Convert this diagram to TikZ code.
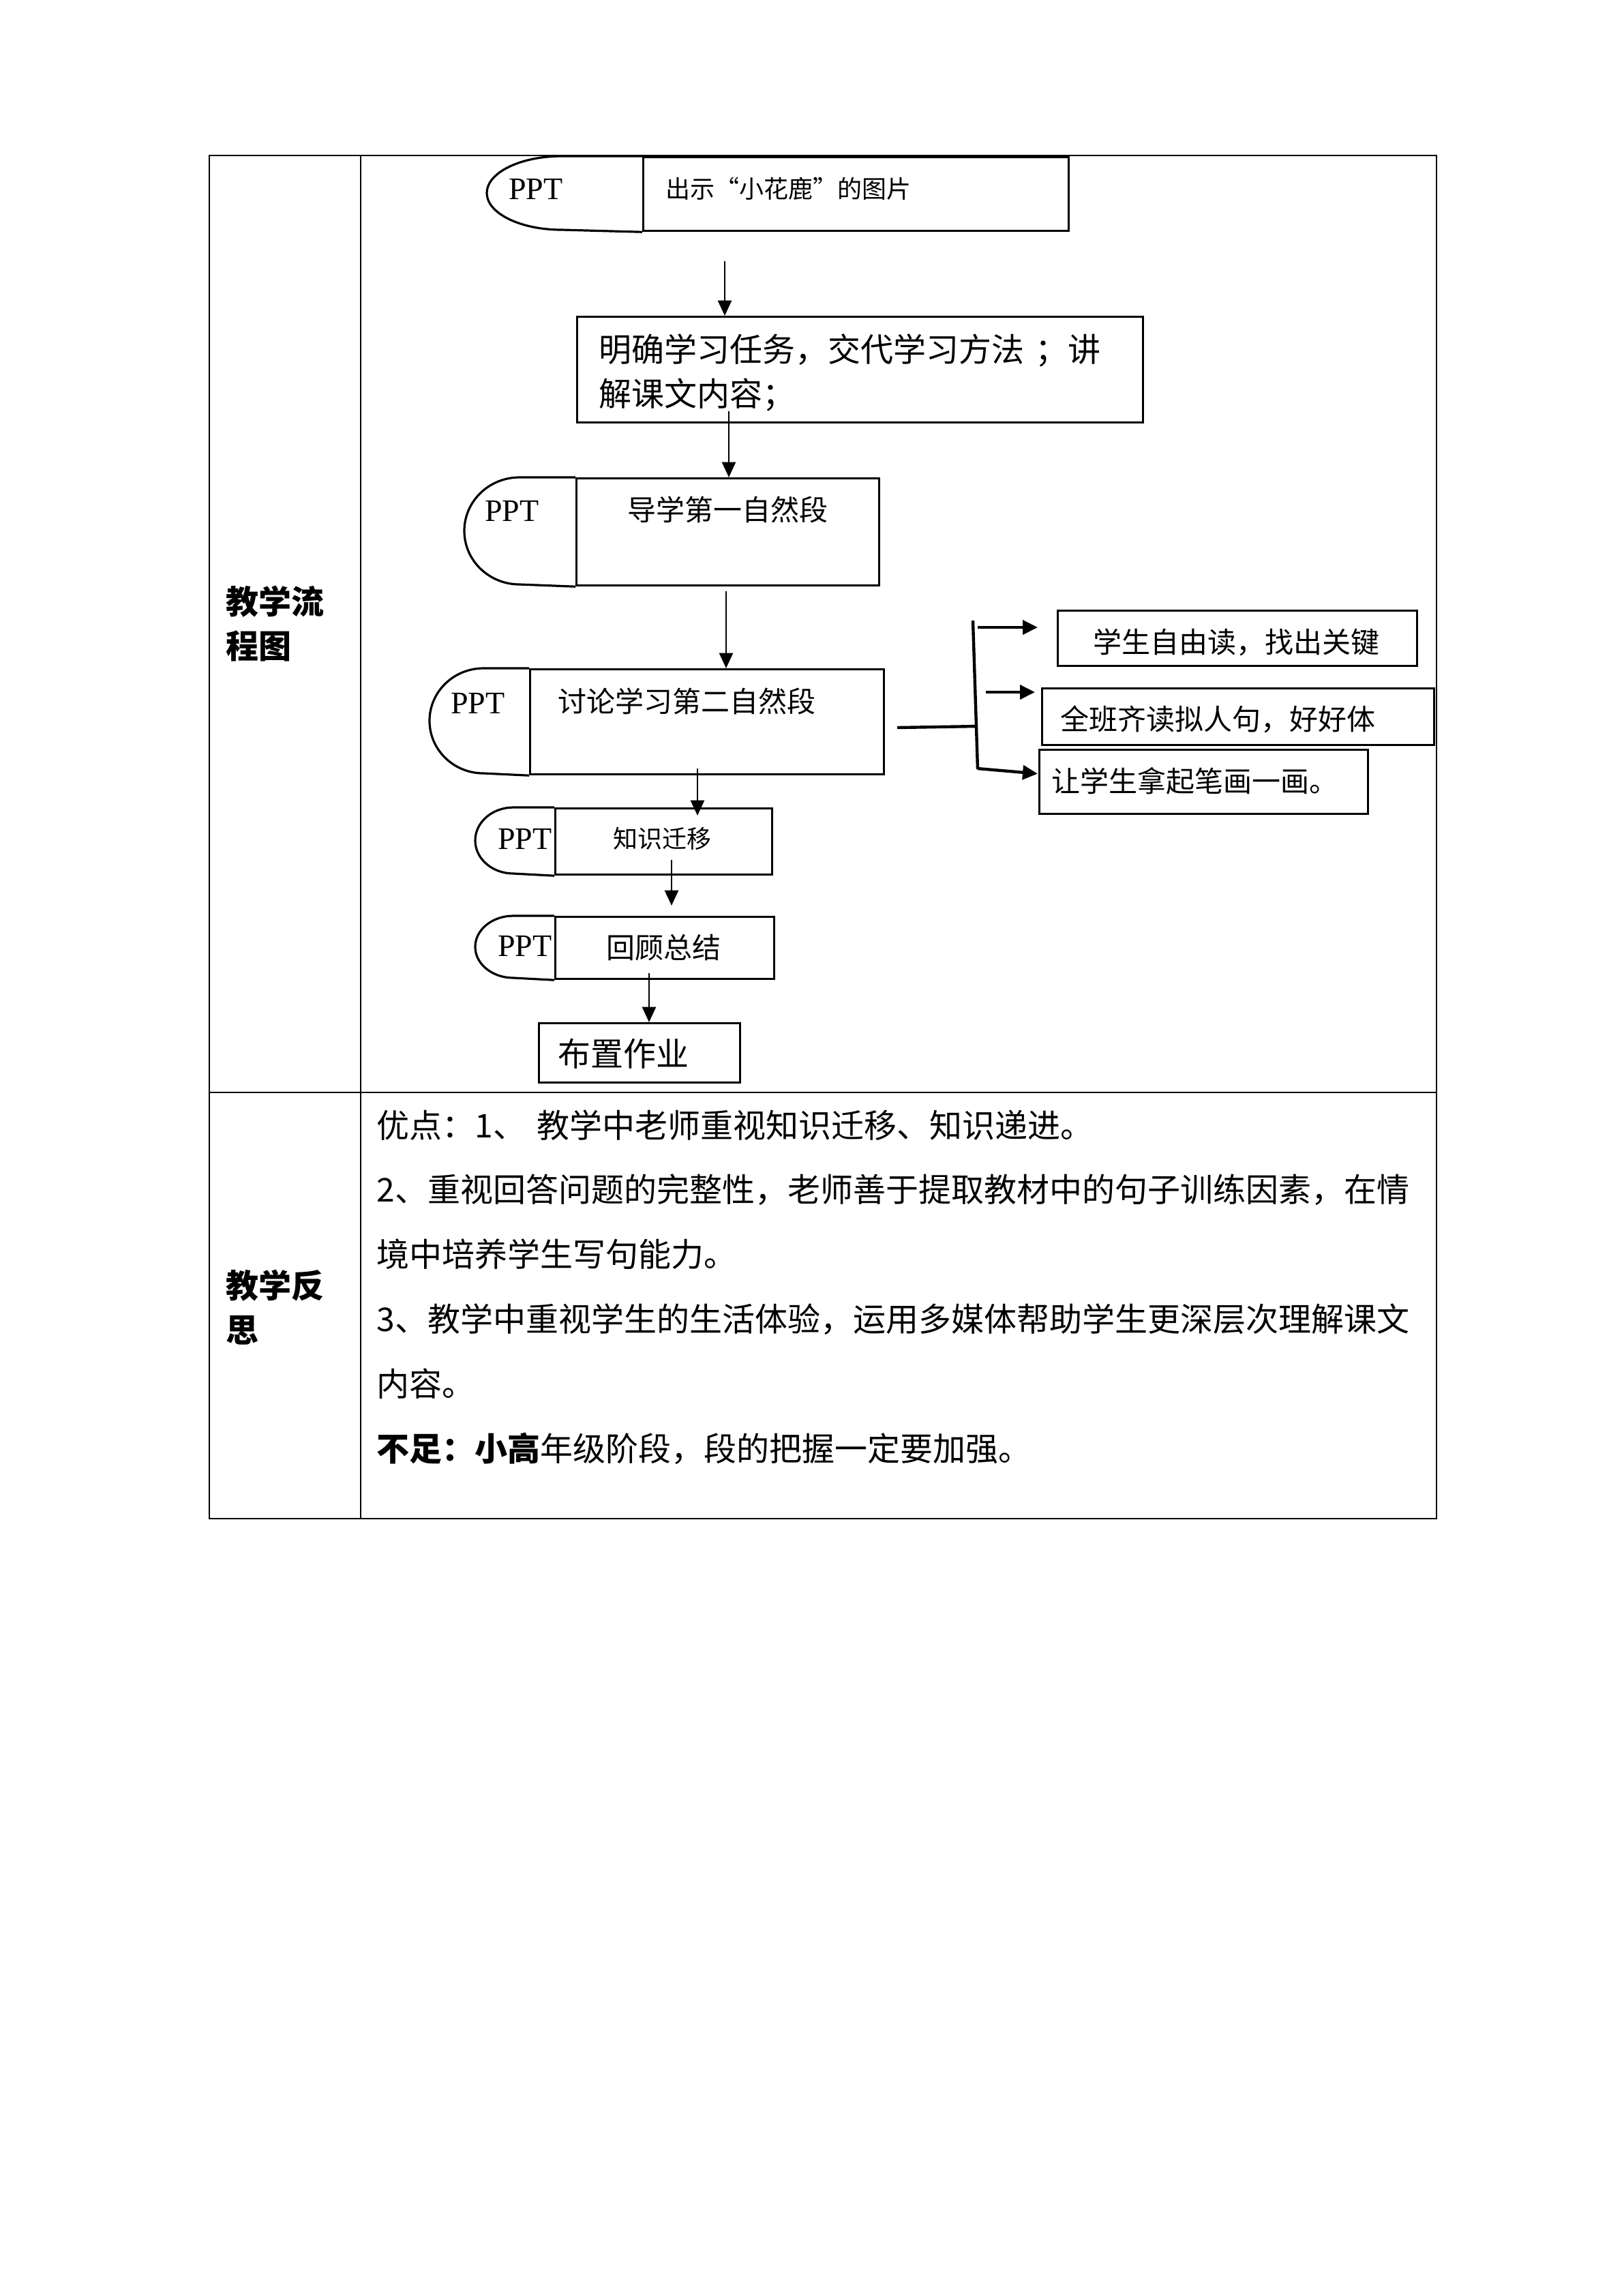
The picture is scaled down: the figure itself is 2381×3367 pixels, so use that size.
\documentclass[tikz,border=0pt]{standalone}
\usepackage{fontspec}
\setmainfont{Noto Sans CJK SC}
\newfontfamily\pptfont{Liberation Serif}
\setlength{\parindent}{0pt}
\usetikzlibrary{arrows.meta,positioning,calc}
\tikzset{
  tablerule/.style={line width=0.5pt},
  tbox/.style={draw, line width=0.8pt, anchor=north west},
  capline/.style={line width=0.8pt},
  ppttag/.style={font=\pptfont\fontsize{11.5}{13}\selectfont},
  txt/.style={font=\fontsize{10.5}{12}\selectfont},
  rowlab/.style={font=\fontsize{12}{16.25}\selectfont\bfseries, align=left, text width=60pt, anchor=base west},
  note/.style={font=\fontsize{12}{23.7}\selectfont, align=left, text width=400pt, anchor=base west},
  flow/.style={-{Triangle[length=5.6pt,width=5pt]}, line width=0.7pt},
  branch/.style={line width=1.1pt},
  brancha/.style={-{Triangle[length=5.5pt,width=5.2pt]}, line width=1.1pt},
}
\begin{document}
\begin{tikzpicture}[x=0.25pt, y=-0.25pt, every node/.style={inner sep=0pt}]
\useasboundingbox (0,0) rectangle (2381,3367);
% table
\draw[tablerule] (307,228) rectangle (2107,2227);
\draw[tablerule] (529,228) -- (529,2227);
\draw[tablerule] (307,1602) -- (2107,1602);
\node[rowlab] (flowlab) at (331,900) {教学流\\程图};
\node[rowlab] (reflab) at (331,1903) {教学反\\思};

% flow chart boxes
\node[tbox, minimum width=156pt, minimum height=27pt] (show) at (942,229) {};
\draw[capline] (show.north west) -- ++(-118,0) arc[start angle=90, end angle=270, x radius=27.5pt, y radius=13.5pt] -- (show.south west);
\node[ppttag] (showppt) at (786,277) {PPT};
\node[txt, anchor=west, font=\fontsize{9}{11}\selectfont] (showtxt) at (976,277) {出示“小花鹿”的图片};

\node[tbox, minimum width=207.5pt, minimum height=38.75pt] (task) at (845,463) {};
\node[txt, anchor=base west, font=\fontsize{12}{16.25}\selectfont, align=left, text width=200pt] (tasktxt) at (878,530) {明确学习任务，交代学习方法 ；讲\\解课文内容；};

\node[tbox, minimum width=111pt, minimum height=39.25pt] (para1) at (844,700) {};
\draw[capline] (para1.north west) -- ++(-82,0) arc[start angle=90, end angle=270, x radius=20.25pt, y radius=19.625pt] -- (para1.south west);
\node[ppttag] (para1ppt) at (751,749) {PPT};
\node[txt] (para1txt) at (1067,747) {导学第一自然段};

\node[tbox, minimum width=129.75pt, minimum height=38.5pt] (para2) at (776,980) {};
\draw[capline] (para2.north west) -- ++(-67,0) arc[start angle=90, end angle=270, x radius=19.75pt, y radius=19.25pt] -- (para2.south west);
\node[ppttag] (para2ppt) at (701,1031) {PPT};
\node[txt, anchor=west] (para2txt) at (818,1028) {讨论学习第二自然段};

\node[tbox, minimum width=79.5pt, minimum height=24.25pt] (transfer) at (813,1184) {};
\draw[capline] (transfer.north west) -- ++(-60,0) arc[start angle=90, end angle=270, x radius=14pt, y radius=12.125pt] -- (transfer.south west);
\node[ppttag] (transferppt) at (770,1230) {PPT};
\node[txt, font=\fontsize{9}{11}\selectfont] (transfertxt) at (971,1230) {知识迁移};

\node[tbox, minimum width=80.25pt, minimum height=22.75pt] (review) at (813,1343) {};
\draw[capline] (review.north west) -- ++(-60,0) arc[start angle=90, end angle=270, x radius=14pt, y radius=11.375pt] -- (review.south west);
\node[ppttag] (reviewppt) at (770,1387) {PPT};
\node[txt] (reviewtxt) at (973,1390) {回顾总结};

\node[tbox, minimum width=73.75pt, minimum height=21.75pt] (homework) at (789,1499) {};
\node[txt, font=\fontsize{12}{14}\selectfont] (homeworktxt) at (914,1545) {布置作业};

% side boxes
\node[tbox, minimum width=131.75pt, minimum height=20.25pt] (read) at (1550,894) {};
\node[txt] (readtxt) at (1813,942) {学生自由读，找出关键};
\node[tbox, minimum width=143.75pt, minimum height=20.75pt] (chorus) at (1527,1008) {};
\node[txt] (chorustxt) at (1786,1055) {全班齐读拟人句，好好体};
\node[tbox, minimum width=120.5pt, minimum height=23.5pt] (pen) at (1523,1098) {};
\node[txt] (pentxt) at (1752,1145) {让学生拿起笔画一画。};

% arrows
\coordinate (a1) at (1063,383);
\coordinate (a2) at (1069,603);
\coordinate (a3) at (1065,867);
\coordinate (a4) at (1023,1127);
\coordinate (a5) at (985,1261);
\coordinate (a6) at (952,1427);
\draw[flow] (a1) -- (a1 |- task.north);
\draw[flow] (a2) -- (a2 |- para1.north);
\draw[flow] (a3) -- (a3 |- para2.north);
\draw[flow] (a4) -- ($(a4 |- transfer.north)+(0,12)$);
\draw[flow] (a5) -- ($(a5 |- review.north)+(0,-15)$);
\draw[flow] (a6) -- (a6 |- homework.north);

% branch to the right
\coordinate (hubL) at (1316,1067);
\coordinate (hubR) at (1434,1065);
\coordinate (barT) at (1427,910);
\coordinate (barB) at (1434,1128);
\coordinate (b1) at (1434,920);
\coordinate (b2) at (1446,1015);
\coordinate (b3) at (1434,1127);
\draw[branch] (hubL) -- (hubR);
\draw[branch] (barT) -- (barB);
\draw[brancha] (b1) -- ($(read.west |- b1)+(-28,0)$);
\draw[brancha] (b2) -- ($(chorus.west |- b2)+(-9,0)$);
\draw[brancha] (b3) -- ($(pen.west)+(-1,-12)$);

% reflection
\node[note] (merit) at (552,1668) {优点：1、 教学中老师重视知识迁移、知识递进。\\
2、重视回答问题的完整性，老师善于提取教材中的句子训练因素，在情\\
境中培养学生写句能力。\\
3、教学中重视学生的生活体验，运用多媒体帮助学生更深层次理解课文\\
内容。\\
{\bfseries 不足：小高}年级阶段，段的把握一定要加强。};
\end{tikzpicture}
\end{document}
